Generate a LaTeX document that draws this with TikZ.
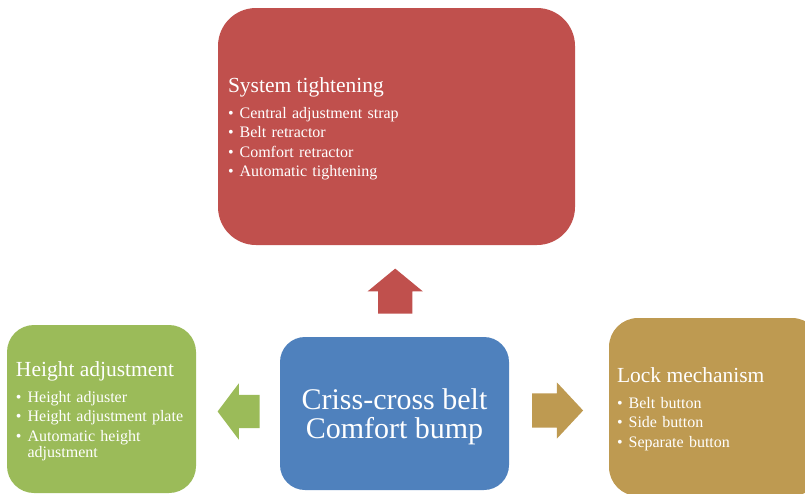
\documentclass[tikz,border=0pt]{standalone}
\usepackage{fontspec}
\setmainfont{Liberation Serif}
\usetikzlibrary{shapes.arrows,calc}

\definecolor{sysred}{HTML}{C0504D}
\definecolor{heightgreen}{HTML}{9BBB59}
\definecolor{beltblue}{HTML}{4F81BD}
\definecolor{lockgold}{HTML}{BE9A51}

\newcommand{\boxhead}[1]{\multicolumn{2}{@{}l@{}}{\rule{0pt}{22pt}\fontsize{21.5}{26}\selectfont #1}\\[6pt]}
\newcommand{\bul}{\textbullet}

\begin{document}
\begin{tikzpicture}[x=1pt, y=-1pt,
  part/.style={rectangle, text=white, inner sep=0pt, align=left,
    font=\fontsize{16}{19.5}\selectfont},
  blockarrow/.style={single arrow, draw=none, anchor=tail, inner xsep=0pt, inner ysep=17pt, minimum width=55pt}]

\useasboundingbox (0,0) rectangle (805,493);
\clip (0,0) rectangle (805,493);

% centre box
\node[part, fill=beltblue, rounded corners=25pt, minimum width=229pt, minimum height=153pt,
      align=center, font=\fontsize{30}{29}\selectfont] (belt) at (394.5,413.5)
      {\rule{0pt}{28pt}Criss-cross belt\\Comfort bump};

% the three parts round it
\node[part, fill=sysred, rounded corners=38pt, minimum width=357pt, minimum height=237pt,
      text width=337pt] (sys) at (396.5,126.5)
  {\begin{tabular}{@{}l@{\hspace{6pt}}l@{}}
   \boxhead{System tightening}
   \bul & Central adjustment strap\\
   \bul & Belt retractor\\
   \bul & Comfort retractor\\
   \bul & Automatic tightening
   \end{tabular}};

\node[part, fill=heightgreen, rounded corners=27pt, minimum width=189pt, minimum height=168pt,
      text width=171pt] (height) at (101.5,409)
  {\begin{tabular}{@{}l@{\hspace{6pt}}l@{}}
   \boxhead{Height adjustment}
   \bul & Height adjuster\\
   \bul & Height adjustment plate\\
   \bul & Automatic height\\[-3pt]
        & adjustment
   \end{tabular}};

\node[part, fill=lockgold, rounded corners=29pt, minimum width=212pt, minimum height=178pt,
      text width=196pt] (lock) at (715,407)
  {\begin{tabular}{@{}l@{\hspace{6pt}}l@{}}
   \boxhead{Lock mechanism}
   \bul & Belt button\\
   \bul & Side button\\
   \bul & Separate button
   \end{tabular}};

% block arrows out of the centre box
\node[blockarrow, fill=sysred, rotate=90, minimum height=45pt,
      single arrow head extend=10.5pt, single arrow tip angle=101] (upar)
      at ($(belt.north)+(0.7,-23)$) {};
\node[blockarrow, fill=heightgreen, rotate=180, minimum height=42pt, inner ysep=16.5pt,
      single arrow head extend=11.5pt, single arrow tip angle=106] (leftar)
      at ($(belt.west)+(-20,-2)$) {};
\node[blockarrow, fill=lockgold, minimum height=51pt,
      single arrow head extend=11pt, single arrow tip angle=94] (rightar)
      at ($(belt.east)+(22.7,-3)$) {};

\end{tikzpicture}
\end{document}
